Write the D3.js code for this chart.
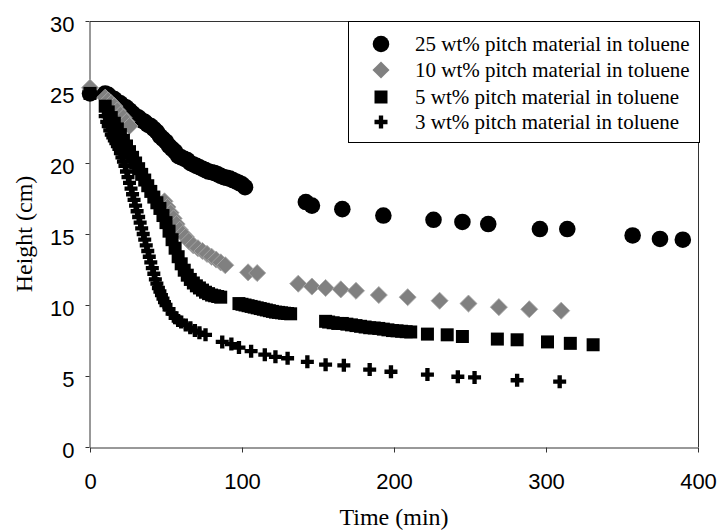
<!DOCTYPE html>
<html>
  <head>
    <meta charset="utf-8">
    <title>Height vs time</title>
    <script src="https://d3js.org/d3.v7.min.js"></script>
    <style>
      body { margin: 0; background: #fff; }
    </style>
  </head>
  <body>
    <script>
    // [time (min), height (cm)]
    var pct25 = [[0,24.9],[10,24.9],[12,24.8],[14,24.6],[16,24.5],[18,24.3],[20,24.2],[22,24.0],[24,23.9],[26,23.7],
      [28,23.5],[30,23.3],[32,23.2],[34,23.0],[36,22.9],[38,22.7],[40,22.6],[42,22.4],[44,22.2],[46,21.9],
      [48,21.7],[50,21.5],[52,21.2],[54,21.0],[56,20.8],[58,20.5],[60,20.4],[62,20.3],[64,20.2],[66,20.0],
      [68,19.9],[70,19.8],[72,19.7],[74,19.6],[76,19.5],[78,19.4],[80,19.35],[82,19.3],[84,19.2],[86,19.1],
      [88,19.0],[90,18.95],[92,18.9],[94,18.8],[96,18.7],[98,18.6],[100,18.5],[102,18.3],
      [142,17.25],[146,17.0],[166,16.75],[193,16.3],[226,16.0],[245,15.85],[262,15.7],[296,15.35],[314,15.35],
      [357,14.9],[375,14.65],[390,14.6]]

    var pct10 = [[0,25.3],[10,24.6],[12,24.4],[14,24.2],[16,24.0],[18,23.7],[20,23.4],[22,23.2],[24,22.9],[26,22.6],
      [49,17.3],[51,16.9],[53,16.5],[55,16.1],[57,15.7],[59,15.3],[61,15.0],[63,14.8],[65,14.5],[68,14.2],
      [71,14.0],[74,13.8],[77,13.6],[80,13.4],[83,13.2],[86,13.0],[89,12.8],[104,12.3],[110,12.25],
      [137,11.5],[146,11.3],[155,11.2],[165,11.1],[175,11.0],[190,10.7],[209,10.55],[230,10.3],[249,10.1],
      [269,9.85],[289,9.7],[310,9.6]]

    var pct5 = [[0,24.9],[10,24.0],[12,23.6],[14,23.2],[16,22.8],[18,22.4],[20,22.0],[22,21.6],[24,21.2],[26,20.8],[28,20.4],
      [30,20.0],[32,19.6],[34,19.2],[36,18.8],[38,18.4],[40,18.0],[42,17.6],[44,17.2],[46,16.8],[48,16.3],
      [50,15.8],[52,15.2],[54,14.6],[56,14.0],[58,13.4],[60,12.9],[62,12.45],[64,12.1],[66,11.8],[68,11.55],
      [70,11.35],[72,11.2],[74,11.05],[76,10.9],[78,10.8],[80,10.7],[82,10.65],[84,10.6],[86,10.55],
      [98,10.1],[100,10.05],[102,10.0],[104,9.95],[106,9.9],[108,9.85],[110,9.8],[112,9.75],[114,9.7],[116,9.65],
      [118,9.6],[120,9.55],[122,9.5],[124,9.48],[126,9.45],[128,9.42],[130,9.4],[132,9.38],
      [155,8.85],[157,8.8],[160,8.75],[163,8.7],[166,8.7],[169,8.65],[172,8.6],[175,8.55],[178,8.5],[181,8.45],
      [184,8.4],[187,8.38],[190,8.35],[193,8.3],[196,8.25],[199,8.2],[202,8.18],[205,8.15],[208,8.12],[211,8.1],
      [222,7.95],[235,7.9],[245,7.78],[268,7.6],[281,7.55],[301,7.4],[316,7.3],[331,7.2]]

    var pct3 = [[10,23.3],[11,22.9],[12,22.6],[13,22.3],[14,22.0],[15,21.8],[16,21.6],[17,21.4],[18,21.2],[19,21.0],
      [20,20.7],[21,20.4],[22,20.1],[23,19.8],[24,19.4],[25,19.0],[26,18.6],[27,18.2],[28,17.8],[29,17.4],
      [30,17.0],[31,16.6],[32,16.2],[33,15.8],[34,15.4],[35,15.0],[36,14.6],[37,14.2],[38,13.8],[39,13.4],
      [40,13.0],[41,12.6],[42,12.2],[43,11.8],[44,11.5],[45,11.2],[46,10.95],[47,10.7],[48,10.45],[49,10.2],
      [50,10.0],[52,9.7],[54,9.4],[56,9.1],[58,8.9],[60,8.8],[63,8.6],[66,8.4],[69,8.2],[72,8.05],[76,7.9],
      [87,7.4],[93,7.25],[98,7.0],[106,6.75],[115,6.5],[122,6.35],[130,6.25],[143,6.0],[155,5.8],[167,5.75],
      [184,5.45],[198,5.3],[222,5.1],[242,4.95],[253,4.9],[281,4.7],[309,4.6]]

    var legendLabels = ["25 wt% pitch material in toluene", "10 wt% pitch material in toluene",
                        "5 wt% pitch material in toluene", "3 wt% pitch material in toluene"]
    var xTicks = [0, 100, 200, 300, 400]
    var yTicks = [0, 5, 10, 15, 20, 25, 30]

    var width = 719,
        height = 531,
        pLeft = 90, pRight = 698, pTop = 21, pBottom = 447

    var svg = d3.select("body").append("svg")
                .attr("width", width)
                .attr("height", height)

    var x = d3.scaleLinear().domain([0, 400]).range([pLeft, pRight])
    var y = d3.scaleLinear().domain([0, 30]).range([pBottom, pTop])

    // marker shapes
    var sym = {
      circle:  d3.symbol().type(d3.symbolCircle).size(216),
      diamond: d3.symbol().type(d3.symbolSquare).size(146),
      square:  d3.symbol().type(d3.symbolSquare).size(169),
      cross:   d3.symbol().type(d3.symbolCross).size(94)
    }
    var series = [
      {data: pct25, shape: "circle",  fill: "#000", rot: 0},
      {data: pct10, shape: "diamond", fill: "#808080", rot: 45},
      {data: pct5,  shape: "square",  fill: "#000", rot: 0},
      {data: pct3,  shape: "cross",   fill: "#000", rot: 0}
    ]

    // frame (top + right)
    svg.append("path")
      .attr("d", "M" + pLeft + "," + (pTop + 0.5) + "H" + (pRight + 0.5) + "V" + pBottom)
      .attr("fill", "none").attr("stroke", "#333").attr("stroke-width", 1)

    // axes
    var xAxis = svg.append("g")
      .attr("transform", "translate(0," + (pBottom + 0.5) + ")")
      .call(d3.axisBottom(x).tickValues(xTicks).tickSize(5).tickSizeOuter(0))
    var yAxis = svg.append("g")
      .attr("transform", "translate(" + (pLeft - 0.5) + ",0)")
      .call(d3.axisLeft(y).tickValues(yTicks).tickSize(4).tickSizeOuter(0))

    ;[xAxis, yAxis].forEach(function(g) {
      g.select(".domain").attr("stroke", "#333")
      g.selectAll(".tick line").attr("stroke", "#333")
      g.selectAll("text")
        .attr("font-family", "'Liberation Sans', Arial, sans-serif")
        .attr("font-size", 22)
        .attr("fill", "#000")
    })
    xAxis.selectAll("text").attr("y", 41).attr("dy", 0)
    yAxis.selectAll("text").attr("x", -15).attr("dy", 10)

    // points, in series order (later series on top)
    series.forEach(function(s) {
      svg.append("g").selectAll("path")
        .data(s.data)
        .enter()
        .append("path")
        .attr("d", sym[s.shape])
        .attr("transform", function(d) {
          return "translate(" + x(d[0]) + "," + y(d[1]) + ") rotate(" + s.rot + ")"
        })
        .attr("fill", s.fill)
        .attr("stroke", s.shape == "diamond" ? "#a8a8a8" : "none")
        .attr("stroke-width", 0.8)
    })

    // legend
    var lg = svg.append("g")
    lg.append("rect")
      .attr("x", 348.5).attr("y", pTop + 0.5)
      .attr("width", 351).attr("height", 121)
      .attr("fill", "#fff").attr("stroke", "#000")
    var rows = [44, 70, 97, 122]
    series.forEach(function(s, i) {
      lg.append("path")
        .attr("d", sym[s.shape])
        .attr("transform", "translate(381," + rows[i] + ") rotate(" + s.rot + ")")
        .attr("fill", s.fill)
      lg.append("text")
        .attr("x", 415).attr("y", rows[i] + 7)
        .attr("font-family", "'Liberation Serif', 'Times New Roman', serif")
        .attr("font-size", 21)
        .text(legendLabels[i])
    })

    // axis titles
    svg.append("text")
      .attr("x", (pLeft + pRight) / 2).attr("y", 525)
      .attr("text-anchor", "middle")
      .attr("font-family", "'Liberation Serif', 'Times New Roman', serif")
      .attr("font-size", 24)
      .text("Time (min)")
    svg.append("text")
      .attr("transform", "translate(32,234) rotate(-90)")
      .attr("text-anchor", "middle")
      .attr("font-family", "'Liberation Serif', 'Times New Roman', serif")
      .attr("font-size", 24)
      .text("Height (cm)")
    </script>
  </body>
</html>
